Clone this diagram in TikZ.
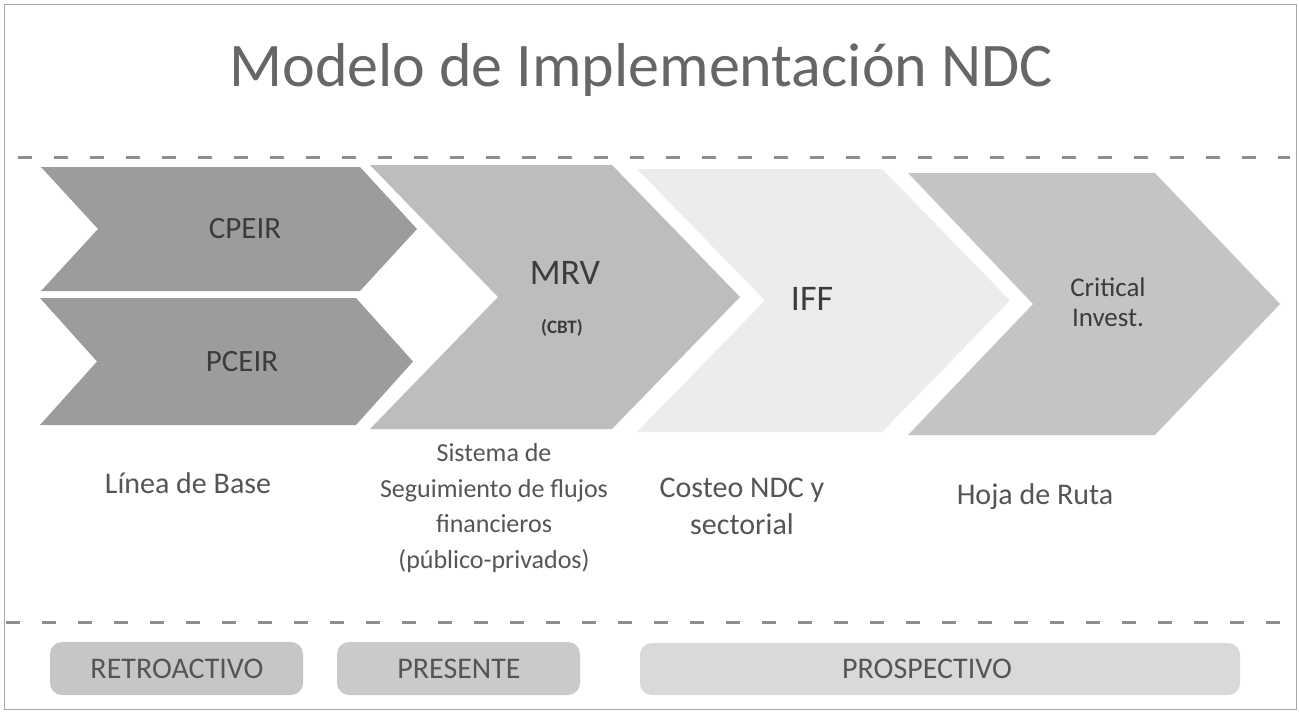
\documentclass[tikz,border=0pt]{standalone}
\usepackage{fontspec}
\setmainfont{Carlito}
\definecolor{cdark}{HTML}{9C9C9C}
\definecolor{cmrv}{HTML}{BDBDBD}
\definecolor{ciff}{HTML}{ECECEC}
\definecolor{ccrit}{HTML}{C4C4C4}
\definecolor{cboxa}{HTML}{C6C6C6}
\definecolor{cboxb}{HTML}{CACACA}
\definecolor{cboxc}{HTML}{D9D9D9}
\definecolor{ctext}{HTML}{3C3C3C}
\definecolor{clabel}{HTML}{555555}
\definecolor{ctitle}{HTML}{666666}
\definecolor{cdash}{HTML}{8E8E8E}
\definecolor{cframe}{HTML}{A8A8A8}
% chevron: x, ytop, width, height, depth
\newcommand{\mychev}[6]{%
  \fill[#6] (#1,#2) -- ({#1+#3-#5},#2) -- ({#1+#3},{#2+#4/2}) -- ({#1+#3-#5},{#2+#4}) -- (#1,{#2+#4}) -- ({#1+#5},{#2+#4/2}) -- cycle;}
\tikzset{
  sep/.style={draw=cdash, line width=3pt, dash pattern=on 14pt off 22pt},
  chevtext/.style={text=ctext, align=center, inner sep=0pt},
  labeltext/.style={text=clabel, align=center, inner sep=0pt},
  phasebox/.style={text=clabel, inner sep=0pt, font=\fontsize{30}{34}\selectfont}
}
\begin{document}
\begin{tikzpicture}[x=1pt, y=-1pt]
\useasboundingbox (0,0) rectangle (1299,715);
\fill[white] (0,0) rectangle (1299,715);
\draw[cframe, line width=1pt] (4,4) rectangle (1296,709);
% title
\node[text=ctitle, inner sep=0pt, font=\fontsize{62}{70}\selectfont] (title) at (641,70) {Modelo de Implementación NDC};
% separators
\draw[sep] (18,157) -- (1290,157);
\draw[sep] (6,622) -- (1290,622);
% chevrons
\mychev{41}{167}{376}{124}{57}{cdark}
\mychev{40}{298}{373}{127}{57}{cdark}
\mychev{370}{165}{370}{264}{128}{cmrv}
\mychev{637}{169}{373}{263}{128}{ciff}
\mychev{908}{173}{372}{262}{125}{ccrit}
\node[chevtext, font=\fontsize{31}{36}\selectfont] (cpeir) at (245,229) {CPEIR};
\node[chevtext, font=\fontsize{31}{36}\selectfont] (pceir) at (242,362) {PCEIR};
\node[chevtext, font=\fontsize{36}{40}\selectfont] (mrv) at (565,273) {MRV};
\node[chevtext, font=\fontsize{19}{22}\selectfont\bfseries] (cbt) at (562,328) {(CBT)};
\node[chevtext, font=\fontsize{36}{40}\selectfont] (iff) at (812,299) {IFF};
\node[chevtext, font=\fontsize{27}{30}\selectfont] (crit) at (1108,302) {Critical\\Invest.};
% labels
\node[labeltext, font=\fontsize{30}{36}\selectfont] (lb) at (188,483) {Línea de Base};
\node[labeltext, font=\fontsize{26}{35.5}\selectfont] (ss) at (494,508) {Sistema de\\Seguimiento de flujos\\financieros\\(público-privados)};
\node[labeltext, font=\fontsize{30}{37}\selectfont] (cn) at (742,506) {Costeo NDC y\\sectorial};
\node[labeltext, font=\fontsize{30}{36}\selectfont] (hr) at (1035,497) {Hoja de Ruta};
% phase boxes
\fill[cboxa, rounded corners=12pt] (50,642) rectangle (303,695);
\fill[cboxb, rounded corners=12pt] (337,642) rectangle (580,695);
\fill[cboxc, rounded corners=12pt] (640,643) rectangle (1240,695);
\node[phasebox] (retro) at (177,669) {RETROACTIVO};
\node[phasebox] (pres) at (459,669) {PRESENTE};
\node[phasebox] (prosp) at (927,669) {PROSPECTIVO};
\end{tikzpicture}
\end{document}
